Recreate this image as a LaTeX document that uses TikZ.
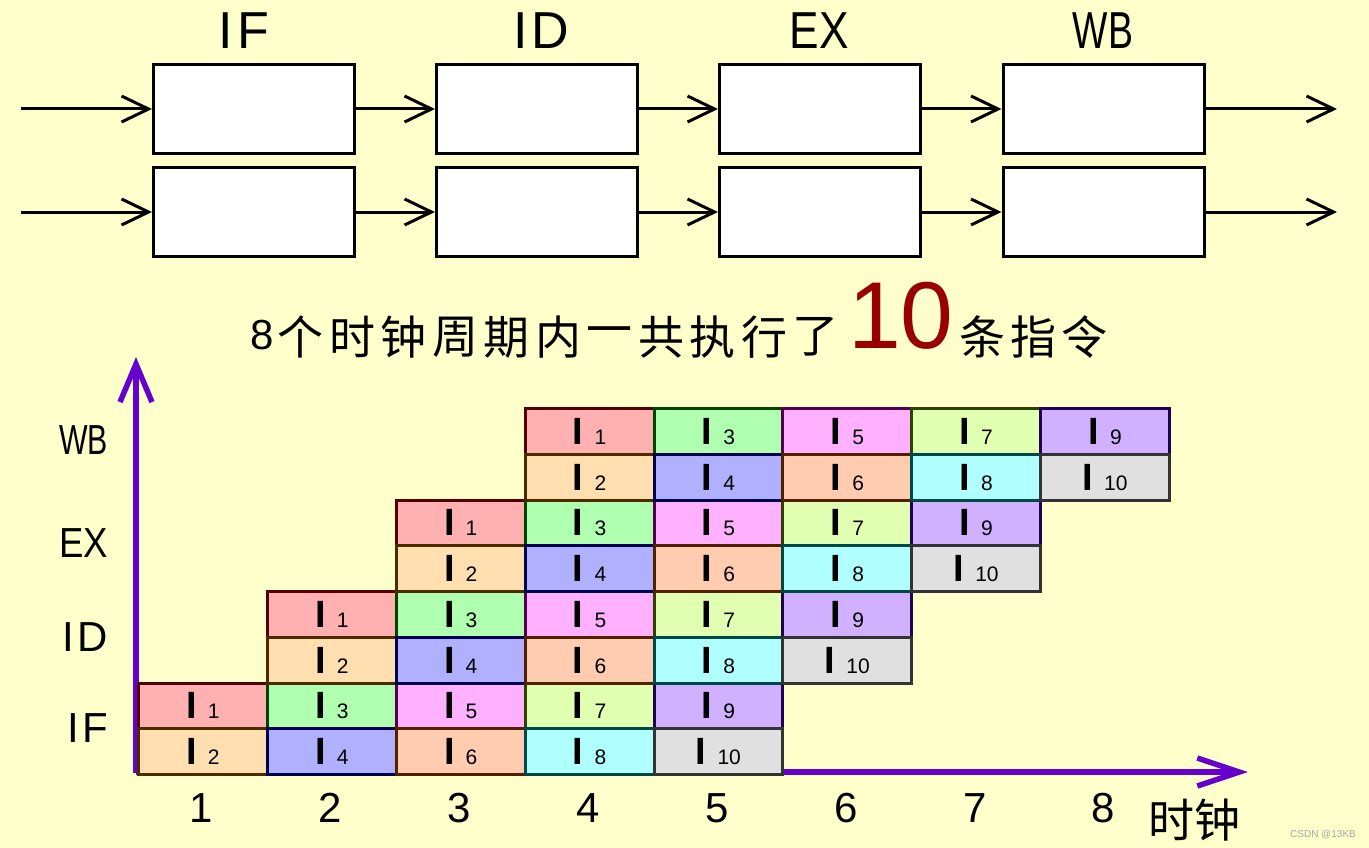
\documentclass[tikz,border=0pt]{standalone}
\usepackage{fontspec}
\setmainfont{Liberation Sans}
\newfontfamily\cjk{Noto Sans CJK SC}
\usetikzlibrary{arrows.meta}
\definecolor{bg}{HTML}{FFFFCC}
\definecolor{axiscol}{HTML}{6600CC}
\definecolor{ten}{HTML}{990000}
\definecolor{f1}{HTML}{FFB0B0}\definecolor{d1}{HTML}{550000}
\definecolor{f2}{HTML}{FFDFB0}\definecolor{d2}{HTML}{4D2B00}
\definecolor{f3}{HTML}{B0FFB0}\definecolor{d3}{HTML}{004400}
\definecolor{f4}{HTML}{B0B0FF}\definecolor{d4}{HTML}{000050}
\definecolor{f5}{HTML}{FFB0FF}\definecolor{d5}{HTML}{500050}
\definecolor{f6}{HTML}{FFCCB0}\definecolor{d6}{HTML}{502000}
\definecolor{f7}{HTML}{E0FFB0}\definecolor{d7}{HTML}{304000}
\definecolor{f8}{HTML}{B0FFFF}\definecolor{d8}{HTML}{004848}
\definecolor{f9}{HTML}{D0B0FF}\definecolor{d9}{HTML}{200050}
\definecolor{f10}{HTML}{E0E0E0}\definecolor{d10}{HTML}{333333}
\newcommand\ilab[1]{{\fontsize{38}{38}\selectfont\bfseries I}\hspace{11pt}{\fontsize{21}{21}\selectfont #1}}
\tikzset{
  stagebox/.style={draw=black, line width=3pt, fill=white, minimum width=201pt, minimum height=89pt, inner sep=0pt},
  flow/.style={line width=3pt, -{Straight Barb[length=27pt,width=26pt,line width=3pt]}},
  axisline/.style={draw=axiscol, line width=5.5pt},
  cell/.style={line width=3pt, minimum width=128.875pt, minimum height=45.75pt, inner sep=0pt, anchor=north west},
  toplabel/.style={font=\fontsize{52}{52}\selectfont, inner sep=0pt},
  sidelabel/.style={font=\fontsize{42}{42}\selectfont, inner sep=0pt, anchor=east},
  ticklabel/.style={font=\fontsize{42}{42}\selectfont, inner sep=0pt},
  cjkchar/.style={font=\cjk\fontsize{46}{46}\selectfont, inner sep=0pt},
}
\begin{document}
\begin{tikzpicture}[x=1pt,y=-1pt]
\fill[bg] (0,0) rectangle (1369,848);
\useasboundingbox (0,0) rectangle (1369,848);

% ---- top pipeline ----
\node[toplabel] (lif) at (244,30.5) {I\hspace{4pt}F};
\node[toplabel] (lid) at (541,30.5) {I\hspace{4pt}D};
\node[toplabel] (lex) at (819,30.5) {\scalebox{0.85}[1]{EX}};
\node[toplabel] (lwb) at (1103,30.5) {\scalebox{0.72}[1]{WB}};

\node[stagebox] (if1) at (254,109) {};
\node[stagebox] (id1) at (537,109) {};
\node[stagebox] (ex1) at (820,109) {};
\node[stagebox] (wb1) at (1103.5,109) {};
\node[stagebox] (if2) at (254,212) {};
\node[stagebox] (id2) at (537,212) {};
\node[stagebox] (ex2) at (820,212) {};
\node[stagebox] (wb2) at (1103.5,212) {};

\coordinate (in1) at (21,109);
\coordinate (in2) at (21,212);
\coordinate (out1) at (1337,109);
\coordinate (out2) at (1337,212);

\draw[flow] (in1) -- (if1.west);
\draw[flow] (if1.east) -- (id1.west);
\draw[flow] (id1.east) -- (ex1.west);
\draw[flow] (ex1.east) -- (wb1.west);
\draw[flow] (wb1.east) -- (out1);
\draw[flow] (in2) -- (if2.west);
\draw[flow] (if2.east) -- (id2.west);
\draw[flow] (id2.east) -- (ex2.west);
\draw[flow] (ex2.east) -- (wb2.west);
\draw[flow] (wb2.east) -- (out2);

% ---- title ----
\node[ticklabel] (t8) at (262.5,335) {8};
\foreach \ch [count=\i from 0] in {个,时,钟,周,期,内,一,共,执,行,了}
  \node[cjkchar] (tc\i) at ({300.5+51.5*\i},337) {\ch};
\node[inner sep=0pt, text=ten, font=\fontsize{95}{95}\selectfont] (t10) at (901,316) {10};
\node[cjkchar] (tx1) at (982,337) {条};
\node[cjkchar] (tx2) at (1033,337) {指};
\node[cjkchar] (tx3) at (1084.5,337) {令};

% ---- axes ----
\coordinate (orig) at (136,773);
\coordinate (ytip) at (136,357);
\coordinate (xorig) at (136,772);
\coordinate (xtip) at (1248,772);
\draw[axisline, -{Straight Barb[length=38pt,width=32pt,line width=5.5pt]}] (orig) -- (ytip);
\draw[axisline, -{Straight Barb[length=42pt,width=28pt,line width=5.5pt]}] (xorig) -- (xtip);

% ---- cells ----
\foreach \s in {0,...,3} {
  \foreach \k in {1,...,5} {
    \pgfmathtruncatemacro\c{\s+\k}
    \pgfmathtruncatemacro\a{2*\k-1}
    \pgfmathtruncatemacro\b{2*\k}
    \pgfmathsetmacro\x{137+(\c-1)*128.875}
    \pgfmathsetmacro\yt{773-(2*\s+2)*45.75}
    \pgfmathsetmacro\yb{773-(2*\s+1)*45.75}
    \node[cell, fill=f\a, draw=d\a] (c\s-\k-t) at (\x,\yt) {\ilab{\a}};
    \node[cell, fill=f\b, draw=d\b] (c\s-\k-b) at (\x,\yb) {\ilab{\b}};
  }
}

% ---- side labels ----
\node[sidelabel] (swb) at (108,440) {\scalebox{0.72}[1]{WB}};
\node[sidelabel] (sex) at (108,543) {\scalebox{0.87}[1]{EX}};
\node[sidelabel] (sid) at (108,637) {I\hspace{3pt}D};
\node[sidelabel] (sif) at (108,728) {I\hspace{3pt}F};

% ---- tick labels ----
\foreach \c in {1,...,8}
  \node[ticklabel] (n\c) at ({137+(\c-0.5)*128.875},808) {\c};
\node[cjkchar] (clk) at (1194,820) {时钟};

\node[inner sep=0pt, text=black!35, font=\fontsize{10}{10}\selectfont] (wm) at (1323,835) {CSDN @13KB};
\end{tikzpicture}
\end{document}
